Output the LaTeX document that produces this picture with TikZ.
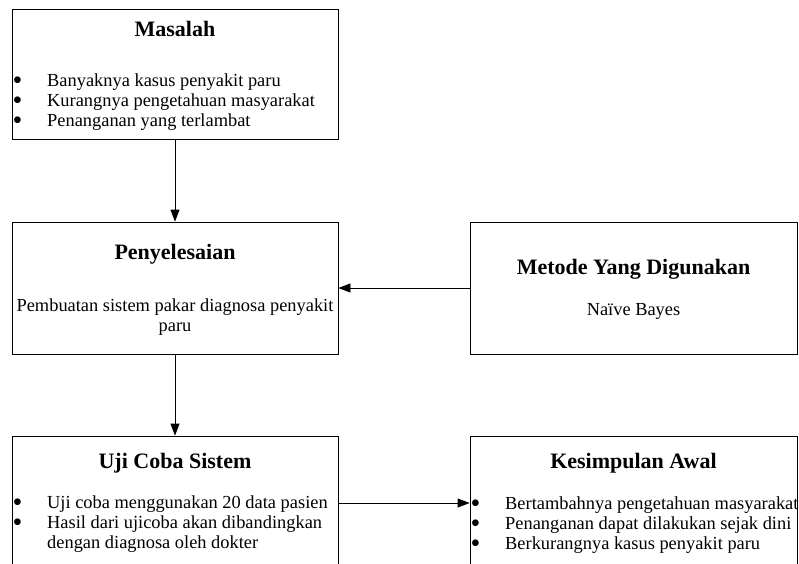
\documentclass[tikz,border=0pt]{standalone}
\usepackage{fontspec}
\setmainfont{Liberation Serif}
\usetikzlibrary{arrows.meta,positioning}

\newcommand{\butir}{\makebox[34.5pt][l]{\smash{\raisebox{-3pt}{\fontsize{28}{20}\selectfont\textbullet}}}}
\newcommand{\lanjut}{\hspace*{34.5pt}}

\begin{document}
\begin{tikzpicture}[x=1pt,y=-1pt,
  box/.style={draw,line width=0.8pt,minimum width=326pt,inner sep=0pt},
  judul/.style={font=\fontsize{22}{24}\selectfont\bfseries,inner sep=0pt},
  isi/.style={font=\fontsize{18.4}{20}\selectfont,inner sep=0pt,align=left},
  tengah/.style={font=\fontsize{18.4}{20}\selectfont,inner sep=0pt,align=center},
  panah/.style={-{Triangle[length=12pt,width=9pt]},line width=0.8pt}]
  \useasboundingbox (0,0) rectangle (799,563);

  % kotak
  \node[box,minimum height=130pt] (masalah) at (175,74) {};
  \node[box,minimum height=132pt] (selesai) at (175,288) {};
  \node[box,minimum height=132pt,minimum width=327pt] (metode) at (633.5,288) {};
  \node[box,minimum height=134pt] (uji) at (175,503) {};
  \node[box,minimum height=134pt,minimum width=327pt] (simpul) at (633.5,503) {};

  % judul
  \node[judul] (tmasalah) at (175,29) {Masalah};
  \node[judul] (tselesai) at (175,254) {Penyelesaian};
  \node[judul] (tmetode) at (633.5,269) {Metode Yang Digunakan};
  \node[judul] (tuji) at (175,463) {Uji Coba Sistem};
  \node[judul] (tsimpul) at (633.5,463) {Kesimpulan Awal};

  % isi
  \node[isi,anchor=west] (imasalah) at (12.5,102) {\butir Banyaknya kasus penyakit paru\\
    \butir Kurangnya pengetahuan masyarakat\\
    \butir Penanganan yang terlambat};
  \node[tengah] (iselesai) at (175,317) {Pembuatan sistem pakar diagnosa penyakit\\paru};
  \node[tengah] (imetode) at (633.5,311) {Na\"ive Bayes};
  \node[isi,anchor=west] (iuji) at (12.5,524) {\butir Uji coba menggunakan 20 data pasien\\
    \butir Hasil dari ujicoba akan dibandingkan\\
    \lanjut dengan diagnosa oleh dokter};
  \node[isi,anchor=west] (isimpul) at (470.5,525) {\butir Bertambahnya pengetahuan masyarakat\\
    \butir Penanganan dapat dilakukan sejak dini\\
    \butir Berkurangnya kasus penyakit paru};

  % panah
  \draw[panah] (masalah) -- (selesai);
  \draw[panah] (metode) -- (selesai);
  \draw[panah] (selesai) -- (uji);
  \draw[panah] (uji) -- (simpul);
\end{tikzpicture}
\end{document}
